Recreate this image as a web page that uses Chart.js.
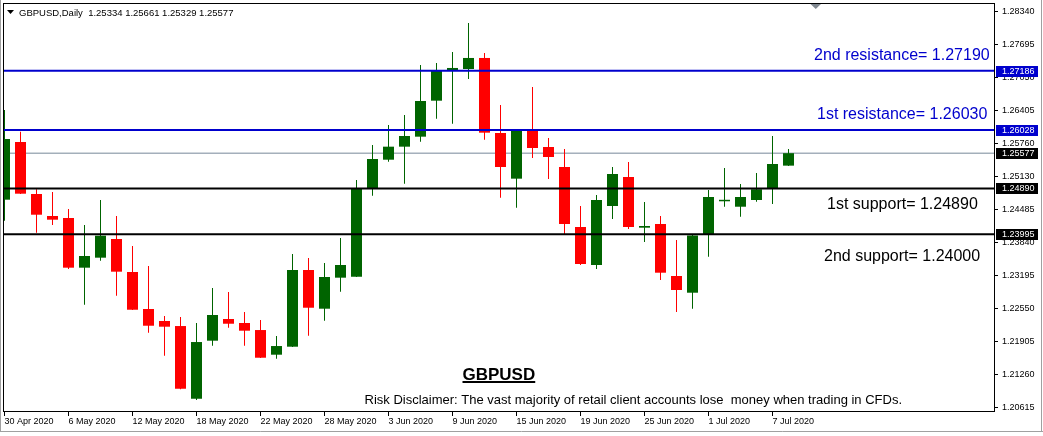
<!DOCTYPE html>
<html><head><meta charset="utf-8">
<script src="https://cdn.jsdelivr.net/npm/chart.js@4.4.1/dist/chart.umd.min.js"></script>
<style>html,body{margin:0;padding:0;background:#fff;overflow:hidden}canvas{display:block}</style>
</head><body>
<canvas id="c" width="1043" height="436"></canvas>
<script>
// ---------- data ----------
const dates = ["30 Apr 2020","1 May 2020","4 May 2020","5 May 2020","6 May 2020","7 May 2020","8 May 2020","11 May 2020","12 May 2020","13 May 2020","14 May 2020","15 May 2020","18 May 2020","19 May 2020","20 May 2020","21 May 2020","22 May 2020","25 May 2020","26 May 2020","27 May 2020","28 May 2020","29 May 2020","1 Jun 2020","2 Jun 2020","3 Jun 2020","4 Jun 2020","5 Jun 2020","8 Jun 2020","9 Jun 2020","10 Jun 2020","11 Jun 2020","12 Jun 2020","15 Jun 2020","16 Jun 2020","17 Jun 2020","18 Jun 2020","19 Jun 2020","22 Jun 2020","23 Jun 2020","24 Jun 2020","25 Jun 2020","26 Jun 2020","29 Jun 2020","30 Jun 2020","1 Jul 2020","2 Jul 2020","3 Jul 2020","6 Jul 2020","7 Jul 2020","8 Jul 2020"];
const opens  = [1.24670,1.25795,1.24781,1.24352,1.24313,1.23344,1.23539,1.23903,1.23260,1.22538,1.22304,1.22206,1.20788,1.21920,1.22343,1.22265,1.22128,1.21647,1.21803,1.23299,1.22544,1.23149,1.23168,1.24892,1.25450,1.25704,1.25899,1.26601,1.27194,1.27219,1.27434,1.25971,1.25080,1.26010,1.25698,1.25308,1.24137,1.23396,1.24547,1.25113,1.24124,1.24196,1.23182,1.22856,1.23995,1.24639,1.24533,1.24664,1.24892,1.25334];
const highs  = [1.26420,1.25996,1.24873,1.24820,1.24489,1.24176,1.24664,1.24352,1.23767,1.23377,1.22401,1.22382,1.22265,1.22948,1.22870,1.22480,1.22323,1.22011,1.23611,1.23533,1.23435,1.23923,1.25054,1.25737,1.26127,1.26322,1.27297,1.27336,1.27551,1.28116,1.27531,1.26517,1.26049,1.26868,1.25873,1.25659,1.24547,1.24762,1.25308,1.25405,1.24625,1.24352,1.23884,1.23981,1.24859,1.25288,1.24976,1.25191,1.25912,1.25661];
const lows   = [1.24260,1.24781,1.24026,1.24176,1.23318,1.22622,1.23480,1.22797,1.22518,1.22076,1.21627,1.20972,1.20763,1.21822,1.22173,1.21822,1.21582,1.21569,1.21797,1.22017,1.22310,1.22875,1.23162,1.24748,1.25411,1.24982,1.25801,1.26250,1.26152,1.27024,1.25840,1.24709,1.24514,1.25483,1.25074,1.23995,1.23396,1.23318,1.24293,1.24098,1.23845,1.23104,1.22480,1.22544,1.23558,1.24533,1.24338,1.24631,1.24586,1.25329];
const closes = [1.25854,1.24787,1.24377,1.24280,1.23344,1.23572,1.23968,1.23266,1.22524,1.22212,1.22193,1.20983,1.21894,1.22421,1.22251,1.22115,1.21588,1.21816,1.23299,1.22563,1.23162,1.23396,1.24879,1.25464,1.25704,1.25912,1.26595,1.27180,1.27239,1.27434,1.25977,1.25308,1.26010,1.25678,1.25503,1.24196,1.23416,1.24664,1.25171,1.24137,1.24157,1.23246,1.22909,1.23972,1.24723,1.24643,1.24723,1.24873,1.25366,1.25577];
const priceTicks = [1.28340,1.27695,1.27050,1.26405,1.25760,1.25130,1.24485,1.23840,1.23195,1.22550,1.21905,1.21260,1.20615];
const dateTickIdx = [0,4,8,12,16,20,24,28,32,36,40,44,48];
const levelValues = [1.27186,1.26028,1.24890,1.23995];
const levelTexts = ["2nd resistance= 1.27190","1st resistance= 1.26030","1st support= 1.24890","2nd support= 1.24000"];
const bidPrice = 1.25577;
const headerText = "GBPUSD,Daily  1.25334 1.25661 1.25329 1.25577";
const titleText = "GBPUSD";
const disclaimerText = "Risk Disclaimer: The vast majority of retail client accounts lose  money when trading in CFDs.";

// ---------- styles / layout ----------
const GREEN = '#006400', RED = '#FF0000', BLUE = '#0000CD';
const levelColors = [BLUE, BLUE, '#000000', '#000000'];
const levelTextPos = [[814,60],[817,118.5],[827,208.5],[824,260.5]];
const X_MIN = -1.5/16, X_MAX = 989.5/16;
const Y_MIN = 1.20549, Y_MAX = 1.28506;
const FONT = "'Liberation Sans', Arial, sans-serif";

const colors = opens.map((o,i) => closes[i] >= o ? GREEN : RED);

const hLine = (v, color, width, order) => ({
  type:'line', data:[{x:X_MIN,y:v},{x:X_MAX,y:v}], borderColor:color, borderWidth:width,
  pointRadius:0, pointHoverRadius:0, order:order, clip:0, tension:0
});

const datasets = [
  { type:'bar', label:'wick', data: dates.map((d,i)=>({x:i, y:[lows[i], highs[i]]})),
    backgroundColor: colors, barThickness:1, grouped:false, order:3, borderWidth:0, inflateAmount:0, clip:0 },
  { type:'bar', label:'body', data: dates.map((d,i)=>({x:i, y:[opens[i], closes[i]]})),
    backgroundColor: colors, barThickness:11, grouped:false, order:2, borderWidth:0, inflateAmount:0, minBarLength:1.5, clip:0 },
  hLine(bidPrice, '#778899', 1, 4),
  ...levelValues.map((v,i)=>hLine(v, levelColors[i], 2, 1))
];

const decor = {
  id:'decor',
  beforeDraw(chart){
    const ctx = chart.ctx; ctx.save(); ctx.fillStyle='#fff'; ctx.fillRect(0,0,chart.width,chart.height); ctx.restore();
  },
  afterDraw(chart){
    const ctx = chart.ctx, a = chart.chartArea, ys = chart.scales.y;
    ctx.save();
    // window border
    ctx.strokeStyle = '#a0a0a0'; ctx.lineWidth = 1;
    ctx.beginPath(); ctx.moveTo(0.5,0); ctx.lineTo(0.5,432); ctx.moveTo(1041.5,0); ctx.lineTo(1041.5,432);
    ctx.moveTo(0,431.5); ctx.lineTo(1043,431.5); ctx.stroke();
    // chart frame
    ctx.strokeStyle = '#000';
    ctx.strokeRect(a.left+0.5, a.top+0.5, a.right-a.left, a.bottom-a.top);
    // price boxes on the axis
    const boxes = levelValues.map((v,i)=>[v, levelColors[i]]).concat([[bidPrice,'#000000']]);
    ctx.font = "9px " + FONT; ctx.textBaseline = 'middle'; ctx.textAlign = 'left';
    boxes.forEach(([v,c])=>{
      const py = ys.getPixelForValue(v);
      ctx.fillStyle = c; ctx.fillRect(996, Math.round(py)-5, 42, 11);
      ctx.fillStyle = '#fff'; ctx.fillText(v.toFixed(5), 1002, Math.round(py)+0.5);
    });
    // level annotations
    ctx.font = "16px " + FONT; ctx.textBaseline = 'alphabetic';
    levelTexts.forEach((t,i)=>{ ctx.fillStyle = levelColors[i]; ctx.fillText(t, levelTextPos[i][0], levelTextPos[i][1]); });
    // title
    ctx.fillStyle = '#000'; ctx.font = "bold 17px " + FONT;
    ctx.fillText(titleText, 462.5, 380);
    const tw = ctx.measureText(titleText).width;
    ctx.fillRect(462.5, 381, tw, 2);
    // disclaimer
    ctx.font = "13px " + FONT;
    ctx.fillText(disclaimerText, 364.5, 404);
    // header
    ctx.font = "9.5px " + FONT;
    ctx.fillText(headerText, 19, 16);
    ctx.beginPath(); ctx.moveTo(7,10); ctx.lineTo(14,10); ctx.lineTo(10.5,14); ctx.closePath(); ctx.fill();
    // chart shift marker
    ctx.fillStyle = '#808890';
    ctx.beginPath(); ctx.moveTo(810.5,4); ctx.lineTo(821,4); ctx.lineTo(815.75,9); ctx.closePath(); ctx.fill();
    ctx.restore();
  }
};

new Chart(document.getElementById('c'), {
  type:'bar',
  data:{ datasets },
  plugins:[decor],
  options:{
    responsive:false, animation:false, devicePixelRatio:1,
    layout:{ padding:{ left:3, top:3, right:0, bottom:0 } },
    plugins:{ legend:{display:false}, tooltip:{enabled:false} },
    events:[],
    scales:{
      x:{ type:'linear', position:'bottom', min:X_MIN, max:X_MAX, offset:false,
          afterBuildTicks: s => { s.ticks = dateTickIdx.map(v=>({value:v})); },
          afterFit: s => { s.height = 25; s.paddingLeft = 0; s.paddingRight = 0; },
          grid:{ drawOnChartArea:false, drawTicks:true, tickLength:5, color:'#000', tickColor:'#000', offset:false },
          border:{ display:false },
          ticks:{ autoSkip:false, maxRotation:0, minRotation:0, align:'start', padding:0, color:'#000',
                  font:{ family:FONT, size:9 }, callback: v => dates[v] } },
      y:{ type:'linear', position:'right', min:Y_MIN, max:Y_MAX, beginAtZero:false,
          afterBuildTicks: s => { s.ticks = priceTicks.map(v=>({value:v})); },
          afterFit: s => { s.width = 49; s.paddingTop = 0; s.paddingBottom = 0; },
          grid:{ drawOnChartArea:false, drawTicks:true, tickLength:4, color:'#000', tickColor:'#000' },
          border:{ display:false },
          ticks:{ padding:4, color:'#000', font:{ family:FONT, size:9 }, callback: v => v.toFixed(5) } }
    }
  }
});
</script>
</body></html>
